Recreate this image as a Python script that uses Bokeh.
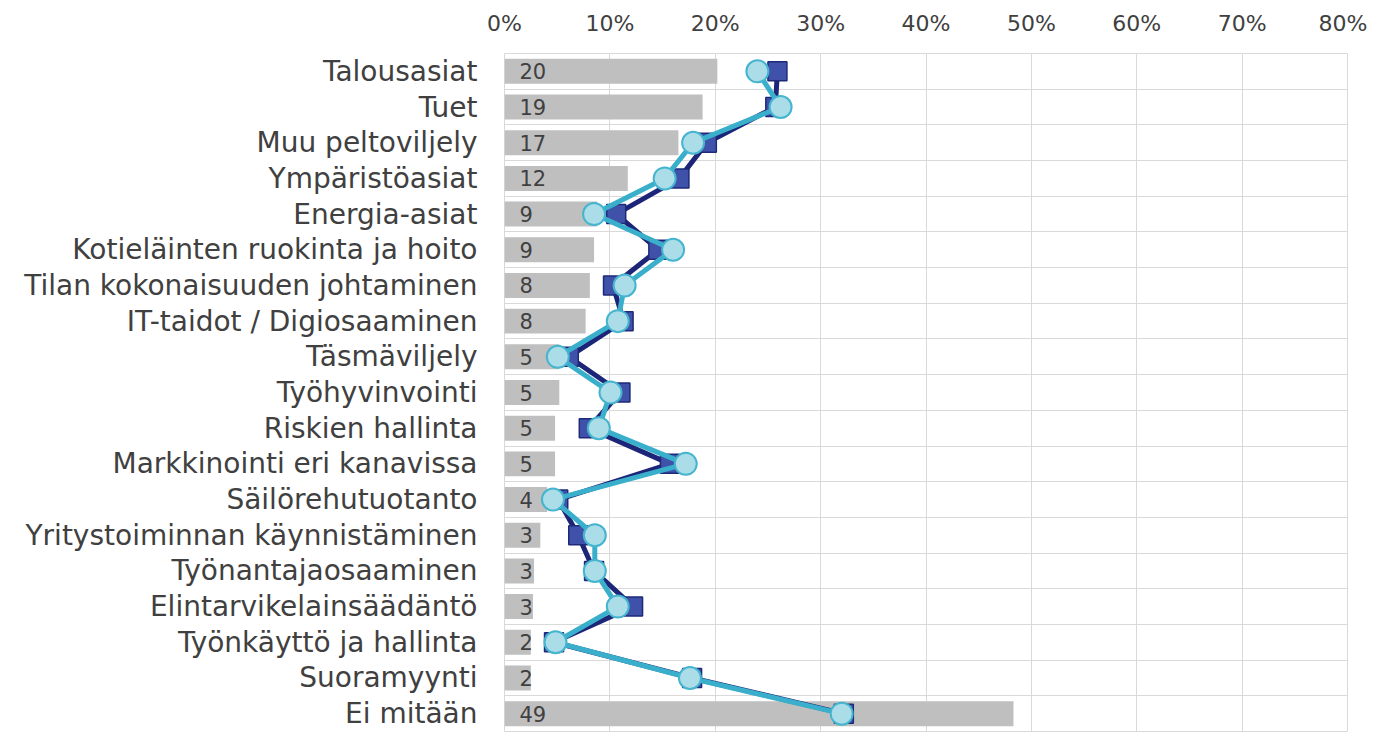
from bokeh.plotting import figure
from bokeh.models import Range1d, FixedTicker, ColumnDataSource
from bokeh.core.properties import value
from bokeh.embed import file_html
from bokeh.resources import INLINE

categories = ["Talousasiat", "Tuet", "Muu peltoviljely", "Ympäristöasiat", "Energia-asiat",
              "Kotieläinten ruokinta ja hoito", "Tilan kokonaisuuden johtaminen",
              "IT-taidot / Digiosaaminen", "Täsmäviljely", "Työhyvinvointi", "Riskien hallinta",
              "Markkinointi eri kanavissa", "Säilörehutuotanto", "Yritystoiminnan käynnistäminen",
              "Työnantajaosaaminen", "Elintarvikelainsäädäntö", "Työnkäyttö ja hallinta",
              "Suoramyynti", "Ei mitään"]
bar_values = [20.2, 18.8, 16.5, 11.7, 8.8, 8.5, 8.1, 7.7, 5.2, 5.2, 4.8, 4.8, 4.05, 3.4, 2.8, 2.7, 2.5, 2.5, 48.3]
bar_labels = ["20", "19", "17", "12", "9", "9", "8", "8", "5", "5", "5", "5", "4", "3", "3", "3", "2", "2", "49"]
series_dark = [25.9, 25.7, 19.2, 16.6, 10.6, 14.6, 10.3, 11.3, 6.1, 11.0, 8.0, 15.7, 5.1, 7.0, 8.5, 12.2, 4.7, 17.8, 32.2]
series_light = [24.0, 26.2, 17.9, 15.2, 8.5, 16.0, 11.4, 10.75, 5.06, 10.06, 8.95, 17.2, 4.6, 8.57, 8.57, 10.75, 4.84, 17.6, 32.0]
x_ticks = [0, 10, 20, 30, 40, 50, 60, 70, 80]
x_tick_labels = ["0%", "10%", "20%", "30%", "40%", "50%", "60%", "70%", "80%"]

FONT = "DejaVu Sans"
TXT = "#404040"

pos = list(range(len(categories)))
src = ColumnDataSource(dict(y=pos, bar=bar_values, lab=bar_labels, d=series_dark, l=series_light,
                            zero=[0] * len(pos)))

p = figure(width=1367, height=734, output_backend="svg", toolbar_location=None,
           x_axis_location="above",
           x_range=Range1d(0, 80), y_range=Range1d(len(categories) - 0.5, -0.5),
           min_border_left=504, min_border_right=20, min_border_top=53, min_border_bottom=3)
p.outline_line_color = "#D9D9D9"
p.background_fill_color = "white"

# grid
p.xgrid.ticker = FixedTicker(ticks=x_ticks)
p.xgrid.grid_line_color = "#D9D9D9"
p.ygrid.ticker = FixedTicker(ticks=[i + 0.5 for i in pos])
p.ygrid.grid_line_color = "#D9D9D9"

# axes
xa = p.xaxis[0]
xa.ticker = FixedTicker(ticks=x_ticks)
xa.major_label_overrides = {t: s for t, s in zip(x_ticks, x_tick_labels)}
xa.axis_line_color = None
xa.major_tick_line_color = None
xa.minor_tick_line_color = None
xa.major_tick_out = 0
xa.major_label_standoff = 18
xa.major_label_text_font = FONT
xa.major_label_text_font_size = "22px"
xa.major_label_text_color = TXT

ya = p.yaxis[0]
ya.ticker = FixedTicker(ticks=pos)
ya.major_label_overrides = {i: c for i, c in zip(pos, categories)}
ya.axis_line_color = None
ya.major_tick_line_color = None
ya.minor_tick_line_color = None
ya.major_tick_out = 0
ya.major_label_standoff = 27
ya.major_label_text_font = FONT
ya.major_label_text_font_size = "28px"
ya.major_label_text_color = TXT

# bars
p.hbar(y="y", left=0, right="bar", height=0.7, source=src, fill_color="#BFBFBF", line_color=None)
p.text(x="zero", y="y", text="lab", source=src, x_offset=15, text_baseline="middle",
       text_font=value(FONT), text_font_size="21px", text_color=TXT)

# series
p.line(x="d", y="y", source=src, line_color="#1C2577", line_width=5)
p.scatter(x="d", y="y", source=src, marker="square", size=19, fill_color="#3F51A8",
          line_color="#1E2A78", line_width=1.5)
p.line(x="l", y="y", source=src, line_color="#3AAFCB", line_width=5)
p.scatter(x="l", y="y", source=src, marker="circle", size=22, fill_color="#ABDDE8",
          line_color="#44B4CF", line_width=2)

open("out.html", "w").write(file_html(p, INLINE))
